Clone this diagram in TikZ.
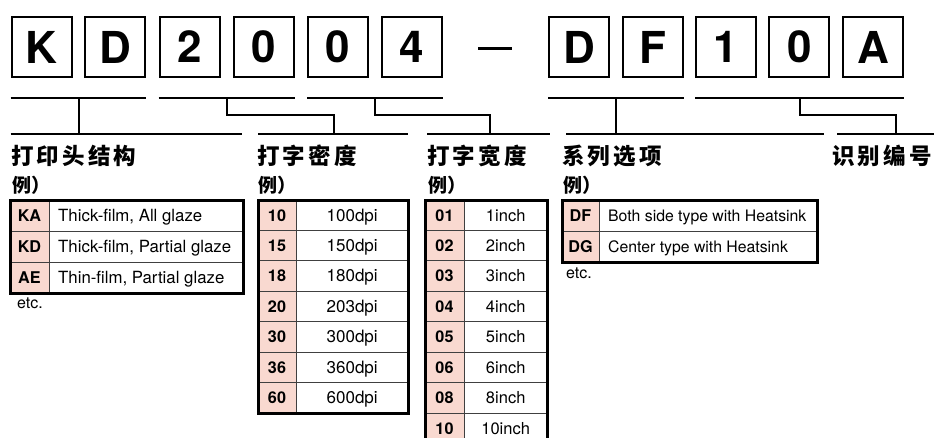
\documentclass[tikz,border=0pt]{standalone}
\usepackage{fontspec}
\setmainfont{TeX Gyre Heros}
\newfontfamily\cjk{Noto Sans CJK SC}[LetterSpace=14]
\newfontfamily\cjkex{Noto Sans CJK SC}
\usetikzlibrary{calc}

\definecolor{codepink}{RGB}{249,217,208}

\tikzset{
  letterbox/.style={draw, line width=2pt, minimum size=60pt, inner sep=0pt,
    font=\fontsize{44}{44}\selectfont\bfseries},
  bracket/.style={line width=2pt},
  title/.style={anchor=west, inner sep=0pt, font=\cjk\fontsize{22.5}{22.5}\selectfont\bfseries},
  example/.style={anchor=west, inner sep=0pt, font=\cjkex\fontsize{19}{19}\selectfont\bfseries},
  codetext/.style={inner sep=0pt, text height=11.6pt, text depth=0pt,
    font=\fontsize{16.2}{16.2}\selectfont\bfseries},
  desctext/.style={anchor=west, inner xsep=9pt, inner ysep=0pt, text height=11.6pt, text depth=0pt},
  descleft/.style={align=left},
  descmid/.style={text width=\descw pt, align=center},
  rowline/.style={line width=0.9pt, black!75},
  outline/.style={line width=3pt},
  etc/.style={anchor=base west, inner sep=0pt, font=\fontsize{16}{16}\selectfont},
}

% table: name, left, code right, right, top, row height, text style, rows
\newcommand{\codetable}[8]{%
  \pgfmathsetmacro\descw{#4-#3-18}
  \foreach \c/\d [count=\i] in {#8} {
    \pgfmathsetmacro\rowy{#5+(\i-0.5)*#6}
    \fill[codepink] (#2,{#5+(\i-1)*#6}) rectangle (#3,{#5+\i*#6});
    \node[codetext] (#1c\i) at ({(#2+#3)/2},\rowy) {\c};
    \node[desctext, #7] (#1d\i) at (#3,\rowy) {\d};
    \ifnum\i>1 \draw[rowline] (#2,{#5+(\i-1)*#6}) -- (#4,{#5+(\i-1)*#6}); \fi
    \xdef\lastrow{\i}
  }
  \draw[rowline] (#3,#5) -- (#3,{#5+\lastrow*#6});
  \draw[outline] (#2,#5) rectangle (#4,{#5+\lastrow*#6});
}

\begin{document}
\begin{tikzpicture}[x=1pt, y=-1pt]
  \useasboundingbox (0,0) rectangle (934,437);
  \clip (0,0) rectangle (934,437);

  % part number boxes
  \foreach \ch/\x [count=\i] in {K/41.7, D/115.4, 2/189.7, 0/264, 0/338, 4/412,
      D/579, F/652.6, 1/726, 0/799.3, A/873}
    \node[letterbox] (l\i) at (\x,47) {\ch};
  \node[inner sep=0pt] (dash) at (495,48.5) {\rule{34pt}{3.5pt}};

  % brackets
  \draw[bracket] ([yshift=-20pt]l1.south west) -- coordinate (m1) ([yshift=-20pt]l2.south east);
  \draw[bracket] ([yshift=-20pt]l3.south west) -- coordinate (m2) ([yshift=-20pt]l4.south east);
  \draw[bracket] ([yshift=-20pt]l5.south west) -- coordinate (m3) ([yshift=-20pt]l6.south east);
  \draw[bracket] ([yshift=-20pt]l7.south west) -- coordinate (m4) ([yshift=-20pt]l8.south east);
  \draw[bracket] ([yshift=-20pt]l9.south west) -- coordinate (m5) ([yshift=-20pt]l11.south east);

  \draw[bracket] (10.7,134) coordinate (b1) -- (242,134);
  \draw[bracket] (258,134) -- coordinate (b2) (408,134);
  \draw[bracket] (427,134) -- coordinate (b3) (550,134);
  \draw[bracket] (566,134) -- (824,134);
  \draw[bracket] (837,134) -- (934,134);

  \draw[bracket] (m1) -- (m1 |- b1);
  \draw[bracket] (m2) |- (334,115) -- (334,134);
  \draw[bracket] (m3) |- (490,115) -- (490,134);
  \draw[bracket] (m4) -- (m4 |- b1);
  \draw[bracket] (m5) |- (896,115) -- (896,134);

  % titles
  \node[title] (head) at (11,156) {打印头结构};
  \node[title] (dots) at (257,156) {打字密度};
  \node[title] (width) at (427,156) {打字宽度};
  \node[title] (series) at (562,156) {系列选项};
  \node[title] (ident) at (832,156) {识别编号};
  \node[example] (headex) at (12,185) {例）};
  \node[example] (dotsex) at (258,185) {例）};
  \node[example] (widthex) at (428,185) {例）};
  \node[example] (seriesex) at (563,185) {例）};

  % tables
  \codetable{hd}{10}{49}{243}{200}{31}{descleft, font=\fontsize{16.8}{17}\selectfont}{%
    KA/{Thick-film, All glaze}, KD/{Thick-film, Partial glaze}, AE/{Thin-film, Partial glaze}}
  \codetable{dp}{258}{296}{408}{200}{30.45}{descmid, font=\fontsize{17}{17}\selectfont}{%
    10/100dpi, 15/150dpi, 18/180dpi, 20/203dpi, 30/300dpi, 36/360dpi, 60/600dpi}
  \codetable{wd}{425}{464}{547}{200}{30.45}{descmid, font=\fontsize{16.5}{17}\selectfont}{%
    01/1inch, 02/2inch, 03/3inch, 04/4inch, 05/5inch, 06/6inch, 08/8inch, 10/10inch}
  \codetable{sr}{562}{599}{817}{200}{31}{descleft, font=\fontsize{15.8}{16}\selectfont}{%
    DF/{Both side type with Heatsink}, DG/{Center type with Heatsink}}

  \node[etc] (hdetc) at (17,308) {etc.};
  \node[etc] (sretc) at (566,278) {etc.};
\end{tikzpicture}
\end{document}
